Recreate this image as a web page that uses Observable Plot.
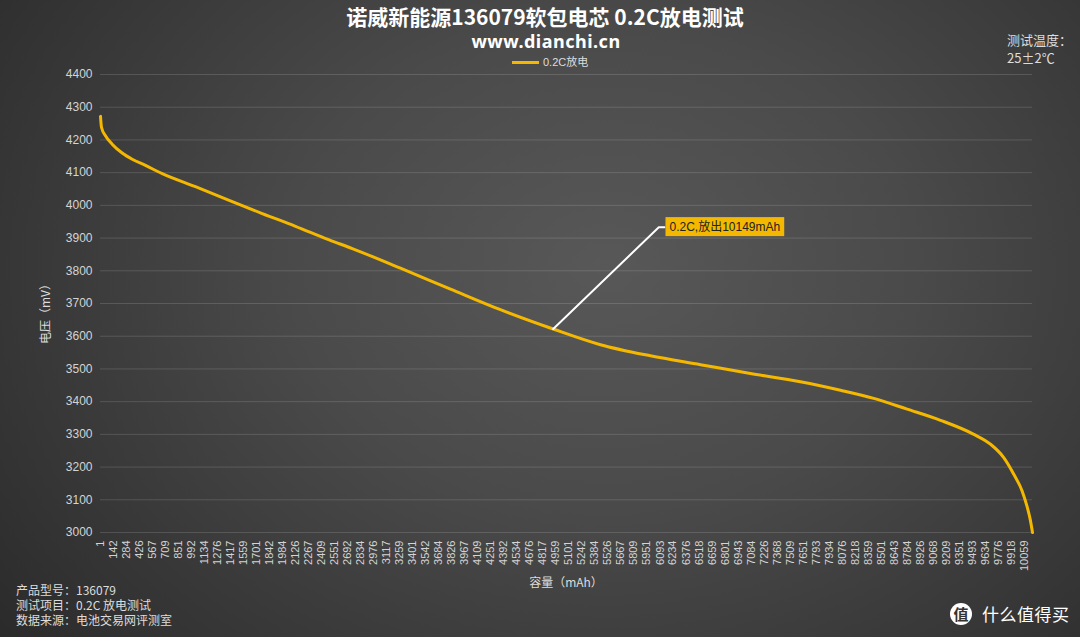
<!DOCTYPE html>
<html>
<head>
<meta charset="utf-8">
<script src="https://cdn.jsdelivr.net/npm/d3@7"></script>
<script src="https://cdn.jsdelivr.net/npm/@observablehq/plot@0.6"></script>
<style>
html,body{margin:0;padding:0;background:#2a2a2a;}
body{width:1080px;height:637px;overflow:hidden;}
#wrap{position:relative;width:1080px;height:637px;overflow:hidden;
  background:radial-gradient(ellipse 72% 95% at 56% 42%, #585858 0%, #4a4a4a 40%, #2a2a2a 100%);
  font-family:"Noto Sans CJK SC","Liberation Sans",sans-serif;color:#fff;}
#chart{position:absolute;left:0;top:0;}
.abs{position:absolute;white-space:nowrap;}
#title{left:0;width:1090px;text-align:center;top:2px;font-size:21px;font-weight:bold;line-height:28px;color:#fff;}
#sub{left:0;width:1092px;text-align:center;top:29px;font-size:18px;font-weight:bold;line-height:25px;color:#fff;font-family:"Noto Sans","Noto Sans CJK SC",sans-serif;letter-spacing:0.5px;}
#legend{left:512px;top:54px;font-size:11px;line-height:16px;color:#ddd;display:flex;align-items:center;font-family:"Liberation Sans","Noto Sans CJK SC",sans-serif;}
#legend .sw{display:inline-block;width:27px;height:3px;margin-right:4px;}
#temp{left:1007px;top:31px;font-size:13px;line-height:18px;color:#ddd;}
#ylab{left:44px;top:311px;transform:translate(-50%,-50%) rotate(-90deg);font-size:12px;color:#ddd;}
#xlab{left:566px;top:581px;transform:translate(-50%,-50%);font-size:12px;color:#ddd;}
#info{left:16px;top:582px;font-size:12px;line-height:15px;color:#ddd;}
#wm{left:950px;top:601px;display:flex;align-items:center;color:#fff;}
#wm .c{width:22px;height:22px;border-radius:50%;background:#fff;color:#333;font-size:15px;font-weight:bold;line-height:22px;text-align:center;margin-right:10px;}
#wm .t{font-size:17px;letter-spacing:0.5px;}
</style>
</head>
<body>
<div id="wrap">
  <div id="chart"></div>
  <div class="abs" id="title"></div>
  <div class="abs" id="sub"></div>
  <div class="abs" id="legend"><span class="sw"></span><span class="lt"></span></div>
  <div class="abs" id="temp"></div>
  <div class="abs" id="ylab"></div>
  <div class="abs" id="xlab"></div>
  <div class="abs" id="info"></div>
  <div class="abs" id="wm"><span class="c">值</span><span class="t">什么值得买</span></div>
</div>
<script>
// ---- data ----
const seriesName = "0.2C放电";
const capacity = [1, 12, 55, 128, 237, 346, 491, 673, 1035, 1395, 1762, 2124, 2484, 2742, 3267, 3812, 4356, 4930, 5445, 5989, 6534, 7078, 7622, 8058, 8421, 8784, 9147, 9510, 9691, 9836, 9945, 10036, 10091, 10124, 10149];
const voltage  = [4272, 4238, 4213, 4187, 4160, 4141, 4122, 4097, 4057, 4016, 3975, 3936, 3895, 3868, 3808, 3744, 3681, 3622, 3574, 3540, 3513, 3486, 3461, 3435, 3410, 3377, 3343, 3300, 3270, 3229, 3178, 3127, 3078, 3040, 3000];
const xTicks = [1,142,284,426,567,709,851,992,1134,1276,1417,1559,1701,1842,1984,2126,2267,2409,2551,2692,2834,2976,3117,3259,3401,3542,3684,3826,3967,4109,4251,4392,4534,4676,4817,4959,5101,5242,5384,5526,5667,5809,5951,6093,6234,6376,6518,6659,6801,6943,7084,7226,7368,7509,7651,7793,7934,8076,8218,8359,8501,8643,8784,8926,9068,9209,9351,9493,9634,9776,9918,10059];
const yTicks = [3000,3100,3200,3300,3400,3500,3600,3700,3800,3900,4000,4100,4200,4300,4400];
const annotationText = "0.2C,放出10149mAh";
const annotationAnchor = [4930, 3622];   // point on curve (mAh, mV)
const annotationKnee = [6080, 3933];     // leader bend (mAh, mV)
const annotationBox = [6142, 3933];      // label start (mAh, mV)
const titleText = "诺威新能源136079软包电芯 0.2C放电测试";
const subText = "www.dianchi.cn";
const tempLines = ["测试温度：", "25±2℃"];
const infoLines = ["产品型号：136079", "测试项目：0.2C 放电测试", "数据来源：电池交易网评测室"];
const xLabel = "容量（mAh）";
const yLabel = "电压（mV）";
const lineColor = "#f5b800";

// ---- build ----
const rows = capacity.map((c, i) => ({mAh: c, mV: voltage[i]}));
const leader = [annotationAnchor, annotationKnee, annotationBox].map(([x, y]) => ({x, y}));
const label = [{x: annotationBox[0], y: annotationBox[1], t: annotationText}];

const chart = Plot.plot({
  width: 1080,
  height: 637,
  marginLeft: 100,
  marginRight: 48,
  marginTop: 74,
  marginBottom: 105,
  style: {background: "transparent", color: "#d4d4d4", fontFamily: "'Liberation Sans','Noto Sans CJK SC',sans-serif", overflow: "visible"},
  x: {type: "linear", domain: [1, 10149]},
  y: {domain: [3000, 4400]},
  marks: [
    Plot.ruleY(yTicks, {stroke: "#ffffff", strokeOpacity: 0.14, strokeWidth: 1}),
    Plot.axisY({ticks: yTicks, tickSize: 0, tickPadding: 8, label: null, fontSize: 12, tickFormat: d => String(d)}),
    Plot.axisX({ticks: xTicks, tickSize: 0, tickRotate: -90, tickPadding: 8, label: null, fontSize: 11, tickFormat: d => String(d)}),
    Plot.line(rows, {x: "mAh", y: "mV", stroke: lineColor, strokeWidth: 3, curve: "monotone-x"}),
    Plot.line(leader, {x: "x", y: "y", stroke: "#ffffff", strokeWidth: 2}),
    Plot.text(label, {x: "x", y: "y", text: "t", textAnchor: "start", dx: 5, fill: "#222", fontSize: 12, fontFamily: "'Liberation Sans','Noto Sans CJK SC',sans-serif"})
  ]
});
document.getElementById("chart").appendChild(chart);

// background box behind annotation label
for (const t of chart.querySelectorAll("text")) {
  if (t.textContent === annotationText) {
    const b = t.getBBox();
    const r = document.createElementNS("http://www.w3.org/2000/svg", "rect");
    r.setAttribute("x", b.x - 4);
    r.setAttribute("y", b.y - 2);
    r.setAttribute("width", b.width + 8);
    r.setAttribute("height", b.height + 4);
    r.setAttribute("fill", lineColor);
    const tr = t.getAttribute("transform");
    if (tr) r.setAttribute("transform", tr);
    t.parentNode.insertBefore(r, t);
  }
}

document.getElementById("title").textContent = titleText;
document.getElementById("sub").textContent = subText;
document.querySelector("#legend .sw").style.background = lineColor;
document.querySelector("#legend .lt").textContent = seriesName;
document.getElementById("temp").innerHTML = tempLines.join("<br>");
document.getElementById("ylab").textContent = yLabel;
document.getElementById("xlab").textContent = xLabel;
document.getElementById("info").innerHTML = infoLines.join("<br>");
</script>
</body>
</html>
